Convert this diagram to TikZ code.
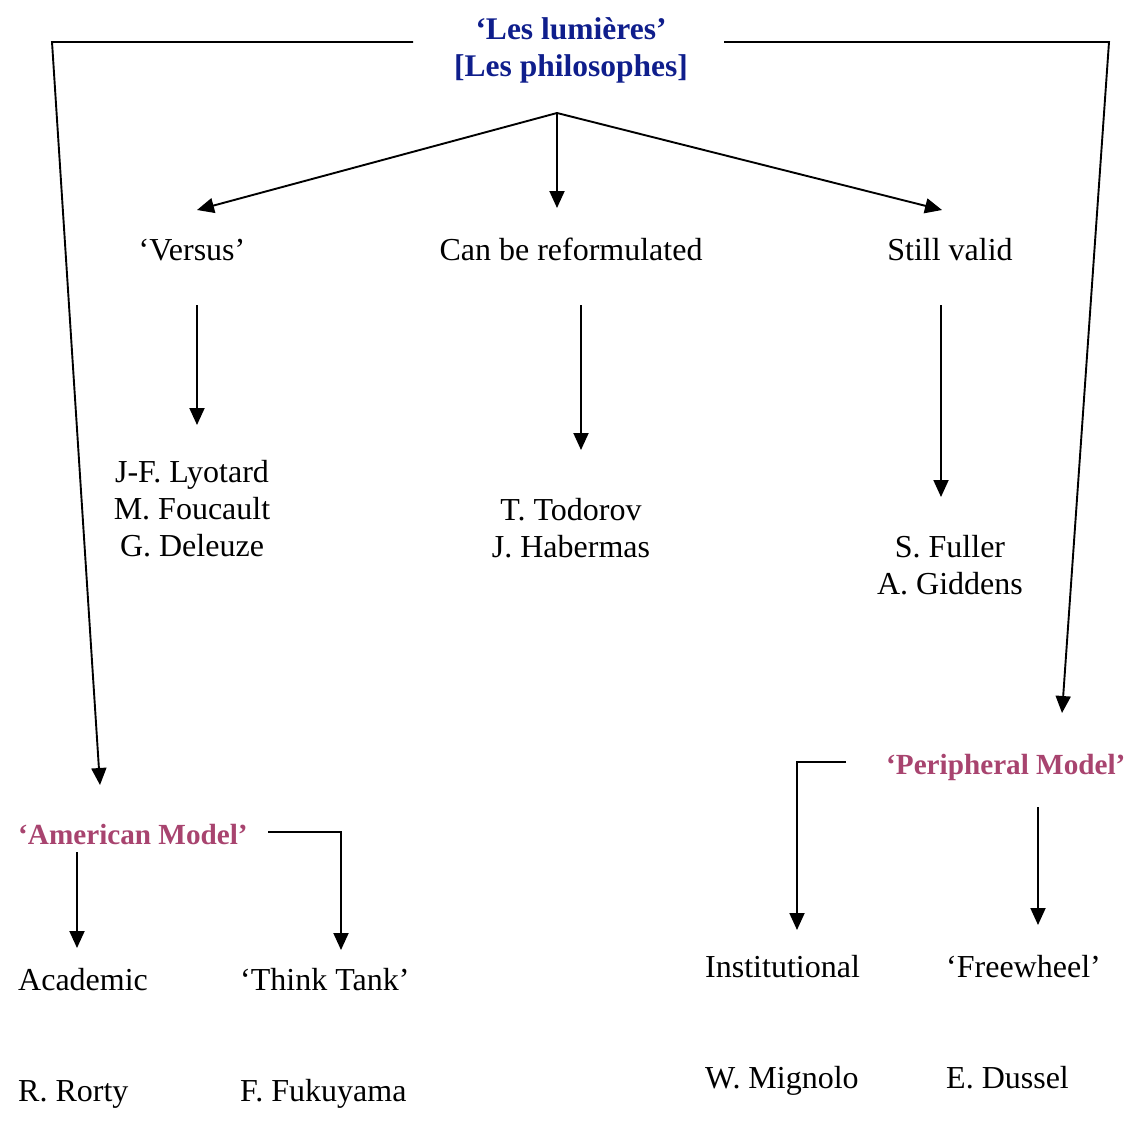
\documentclass[tikz,border=0pt]{standalone}
\usepackage{fontspec}
\setmainfont{Liberation Serif}
\usetikzlibrary{arrows.meta}
\definecolor{titleblue}{HTML}{0F1E8C}
\definecolor{modelpink}{HTML}{A8446F}
\tikzset{
  arr/.style={-{Triangle[length=17pt,width=15pt]},line width=1.9pt},
  txt/.style={inner sep=0pt,align=center,font=\fontsize{32}{37}\selectfont},
  one/.style={txt,text height=22pt,text depth=7pt},
  model/.style={one,text=modelpink,font=\fontsize{29.2}{37}\selectfont\bfseries}
}
\begin{document}
\begin{tikzpicture}[x=1pt,y=-1pt]
\useasboundingbox (0,0) rectangle (1135,1120);
% title
\node[txt,text=titleblue,font=\fontsize{31.5}{37}\selectfont\bfseries] (lum) at (571,50)
  {‘Les lumières’\\{}[Les philosophes]};
% second row
\node[one] (versus) at (192,253) {‘Versus’};
\node[one] (reform) at (571,253) {Can be reformulated};
\node[one] (valid) at (950,253) {Still valid};
% names
\node[txt] (lyo) at (192,509) {J-F. Lyotard\\M. Foucault\\G. Deleuze};
\node[txt] (todo) at (571,528) {T. Todorov\\J. Habermas};
\node[txt] (full) at (950,565) {S. Fuller\\A. Giddens};
% models
\node[model,anchor=west] (amer) at (18,837) {‘American Model’};
\node[model,anchor=west] (peri) at (886,767) {‘Peripheral Model’};
\node[one,anchor=west] (acad) at (18,983) {Academic};
\node[one,anchor=west] (think) at (240,983) {‘Think Tank’};
\node[one,anchor=west] (rorty) at (18,1094) {R. Rorty};
\node[one,anchor=west] (fuku) at (240,1094) {F. Fukuyama};
\node[one,anchor=west] (inst) at (705,970) {Institutional};
\node[one,anchor=west] (free) at (946,970) {‘Freewheel’};
\node[one,anchor=west] (mign) at (705,1081) {W. Mignolo};
\node[one,anchor=west] (duss) at (946,1081) {E. Dussel};
% helper points
\coordinate (tl) at (52,42);
\coordinate (tr) at (1109,42);
\coordinate (apex) at (557,113);
\coordinate (amer-in) at (100,785);
\coordinate (peri-in) at (1062,713);
% connectors
\draw[arr] (413,42) -- (tl) -- (amer-in);
\draw[arr] (724,42) -- (tr) -- (peri-in);
\draw[arr] (apex) -- (197,210);
\draw[arr] (apex) -- (557,208);
\draw[arr] (apex) -- (942,210);
\draw[arr] (197,305) -- (197,425);
\draw[arr] (581,305) -- (581,450);
\draw[arr] (941,305) -- (941,497);
\draw[arr] (77,852) -- (77,948);
\draw[arr] (268,832) -- (341,832) -- (341,950);
\draw[arr] (846,762) -- (797,762) -- (797,930);
\draw[arr] (1038,807) -- (1038,925);
\end{tikzpicture}
\end{document}
